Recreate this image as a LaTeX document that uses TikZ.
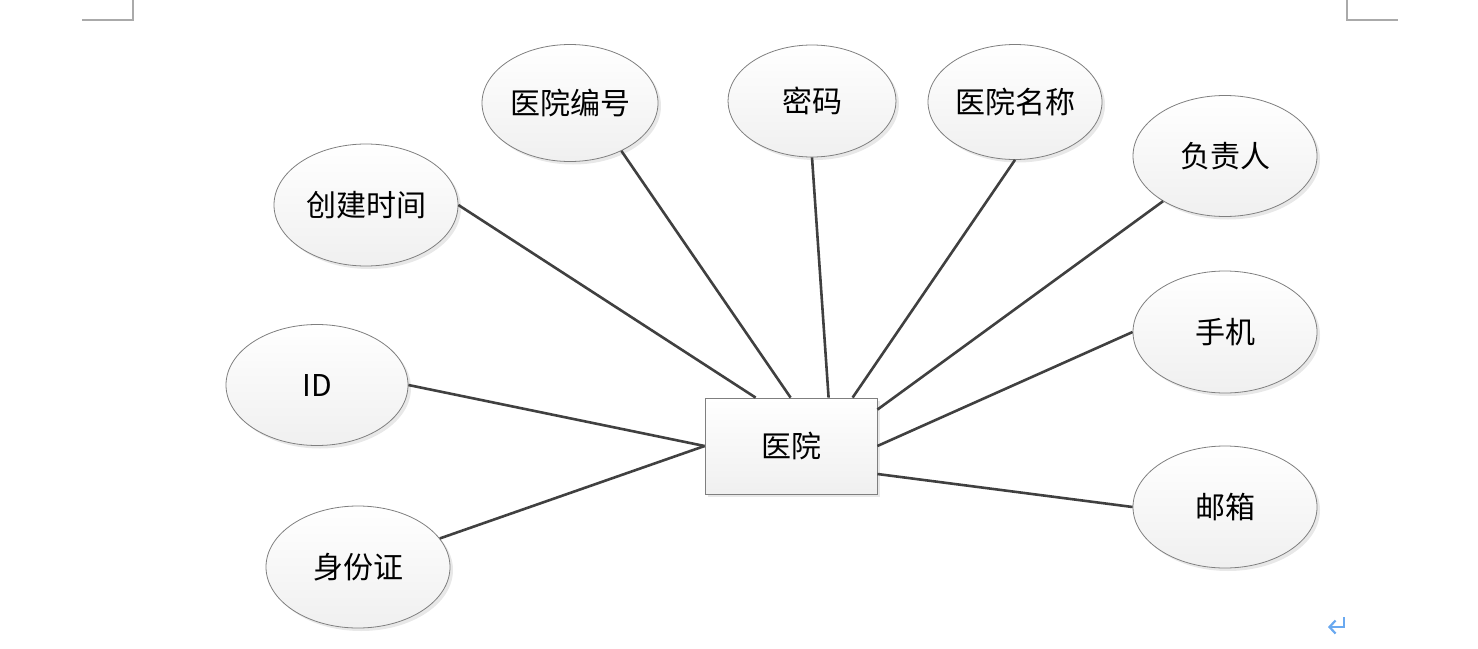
\documentclass[tikz,border=0pt]{standalone}
\usepackage{fontspec}
\setmainfont{Noto Sans CJK SC}
\usetikzlibrary{shadows,arrows.meta,shapes.geometric}
\definecolor{linec}{HTML}{404040}
\definecolor{edgec}{HTML}{7F7F7F}
\definecolor{markc}{HTML}{AAAAAA}
\definecolor{retc}{HTML}{6AA9F0}
\tikzset{
  attr/.style={ellipse, draw=edgec, line width=0.8pt, top color=white, bottom color=black!6,
    minimum width=2*#1, inner sep=0pt,
    drop shadow={shadow xshift=3pt, shadow yshift=-3pt, fill=black!15, opacity=0.6},
    font=\fontsize{30}{32}\selectfont},
  ent/.style={rectangle, draw=edgec, line width=0.8pt, top color=white, bottom color=black!6,
    minimum width=172pt, minimum height=96pt, inner sep=0pt,
    drop shadow={shadow xshift=3pt, shadow yshift=-3pt, fill=black!15, opacity=0.6},
    font=\fontsize{30}{32}\selectfont},
  conn/.style={draw=linec, line width=2.6pt},
  cornermark/.style={draw=markc, line width=1.5pt},
}
\begin{document}
\begin{tikzpicture}[x=1pt,y=-1pt]
\useasboundingbox (0,0) rectangle (1478,648);
% corner marks
\coordinate (m1) at (133,0); \coordinate (m2) at (133,20); \coordinate (m3) at (82,20);
\coordinate (m4) at (1347,0); \coordinate (m5) at (1347,20); \coordinate (m6) at (1398,20);
\draw[cornermark] (m1) -- (m2) -- (m3);
\draw[cornermark] (m4) -- (m5) -- (m6);
% entity
\node[ent] (hosp) at (791,446) {医院};
% attributes
\node[attr=88pt, minimum height=117pt] (bh) at (570,103) {医院编号};
\node[attr=84pt, minimum height=112pt] (mm) at (812,101) {密码};
\node[attr=87pt, minimum height=115pt] (mc) at (1015,102) {医院名称};
\node[attr=92pt, minimum height=121pt] (fz) at (1225,156) {负责人};
\node[attr=92pt, minimum height=122pt] (cj) at (366,205) {创建时间};
\node[attr=91pt, minimum height=121pt] (id) at (317,385) {ID};
\node[attr=92pt, minimum height=122pt] (sf) at (358,567) {身份证};
\node[attr=92pt, minimum height=122pt] (sj) at (1225,332) {手机};
\node[attr=92pt, minimum height=122pt] (yx) at (1225,507) {邮箱};
% connectors
\coordinate (pcj) at ([xshift=51pt]hosp.north west);
\coordinate (pbh) at ([xshift=86pt]hosp.north west);
\coordinate (pmm) at ([xshift=124pt]hosp.north west);
\coordinate (pmc) at ([xshift=148pt]hosp.north west);
\coordinate (pfz) at ([yshift=-12pt]hosp.north east);
\coordinate (psj) at (hosp.east);
\coordinate (pyx) at ([yshift=-28pt]hosp.east);
\coordinate (pid) at (hosp.west);
\draw[conn] (cj.east) -- (pcj);
\draw[conn] (bh.-43) -- (pbh);
\draw[conn] (mm.south) -- (pmm);
\draw[conn] (mc.south) -- (pmc);
\draw[conn] (fz) -- (pfz);
\draw[conn] (sj.west) -- (psj);
\draw[conn] (yx.west) -- (pyx);
\draw[conn] (id.east) -- (pid);
\draw[conn] (sf) -- (pid);
% return mark
\coordinate (r1) at (1344,617);
\coordinate (r2) at (1344,627);
\coordinate (r3) at (1328,627);
\draw[retc, line width=2.2pt, -{Straight Barb[length=6pt,width=13pt]}] (r1) -- (r2) -- (r3);
\end{tikzpicture}
\end{document}
